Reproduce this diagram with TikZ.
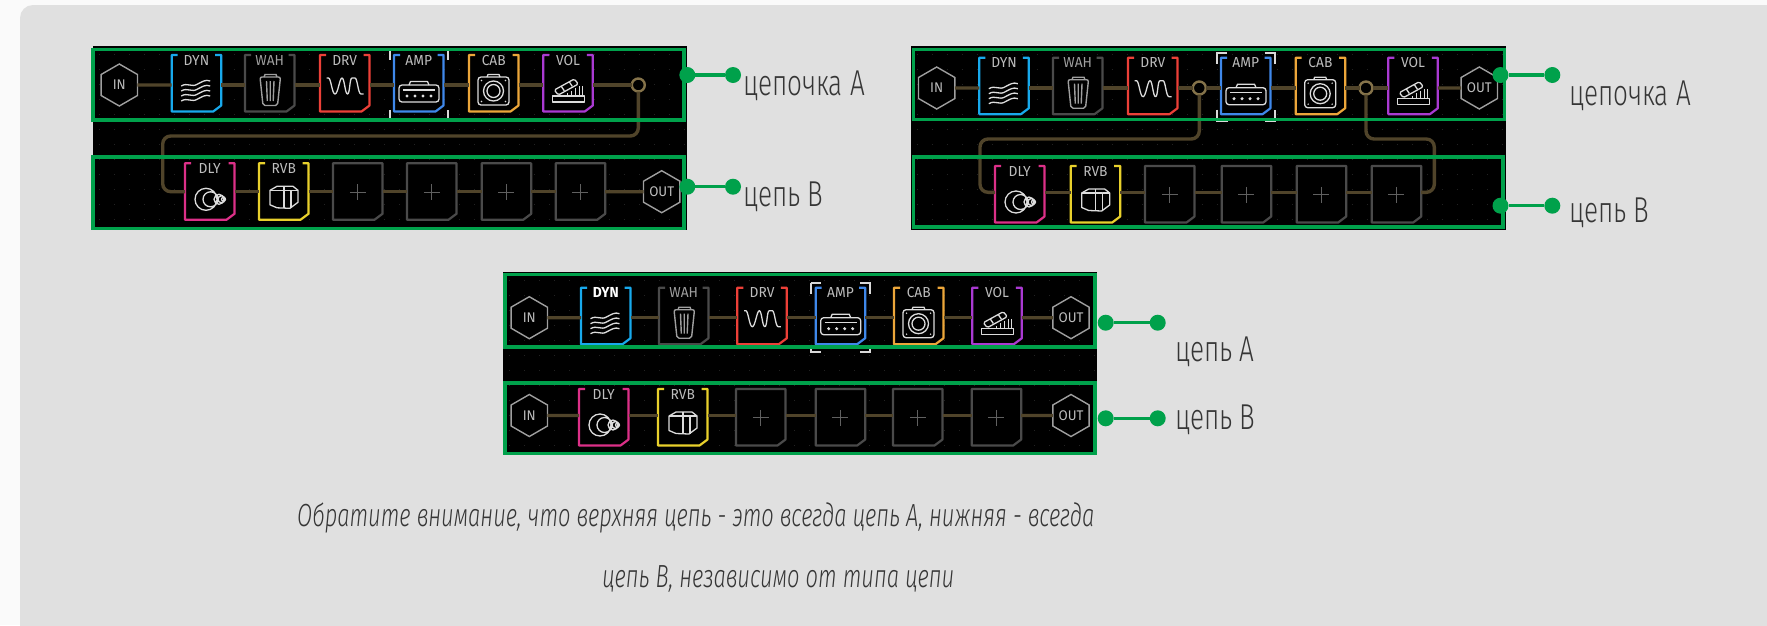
\documentclass[tikz,border=0pt]{standalone}
\usepackage{fontspec}
\usetikzlibrary{shapes.geometric}
\setmainfont{Fira Sans}
\newfontfamily\captionfont[FakeStretch=0.725]{Fira Sans Light}
\newfontfamily\notefont[FakeStretch=0.685]{Fira Sans Light}
\newfontfamily\tagfont[FakeStretch=0.95]{Fira Sans}
\definecolor{pagebg}{HTML}{FAFAFA}
\definecolor{panelbg}{HTML}{E0E0E0}
\definecolor{gridc}{HTML}{222222}
\definecolor{greenc}{HTML}{00A14B}
\definecolor{wirec}{HTML}{50442A}
\definecolor{ringc}{HTML}{85734A}
\definecolor{greyc}{HTML}{4A4A4A}
\definecolor{iconc}{HTML}{DCDCDC}
\definecolor{tagc}{HTML}{BDBDBD}
\definecolor{textc}{HTML}{363636}
\definecolor{plusc}{HTML}{606060}
\definecolor{dync}{HTML}{18A9EC}
\definecolor{drvc}{HTML}{EC4038}
\definecolor{ampc}{HTML}{3F88EA}
\definecolor{cabc}{HTML}{ECA63A}
\definecolor{volc}{HTML}{AA3AD2}
\definecolor{dlyc}{HTML}{DC3088}
\definecolor{rvbc}{HTML}{E8D02C}
\pgfdeclarelayer{front}
\pgfsetlayers{main,front}
\tikzset{
  anchorbox/.style={rectangle,minimum width=49.5pt,minimum height=2pt,inner sep=0pt,outer sep=0pt},
  hexnode/.style={regular polygon,regular polygon sides=6,shape border rotate=30,minimum size=42pt,inner sep=0pt,outer sep=0pt,draw=gray!75,line width=1.4pt,fill=black,text=tagc,font=\tagfont\fontsize{14}{15}\selectfont},
  ringnode/.style={circle,minimum size=13pt,inner sep=0pt,outer sep=0pt,draw=ringc,line width=2.4pt,fill=black},
  wire/.style={draw=wirec,line width=3.4pt},
  loopwire/.style={wire,rounded corners=8pt},
  outline/.style={line width=2.2pt,line join=round},
  iconline/.style={draw=iconc,line width=1.3pt,line join=round},
  tagtext/.style={inner sep=0pt,text=tagc,font=\tagfont\fontsize{14.5}{15}\selectfont},
  gdot/.style={circle,fill=greenc,minimum size=16pt,inner sep=0pt,outer sep=0pt},
  gline/.style={draw=greenc,line width=3.5pt},
  gframe/.style={draw=greenc,line width=3.6pt},
  caption/.style={anchor=base west,inner sep=0pt,text=textc,font=\captionfont\fontsize{36}{38}\selectfont},
  note/.style={anchor=base west,inner sep=0pt,text=textc,font=\notefont\itshape\fontsize{32}{34}\selectfont},
}
\newcommand{\fxmod}[7][tagc]{% [labelcolor] id,left,wirey,top,colour,label (icon via \iconarg)
  \node[anchorbox] (#2) at (#3+24.75,#4) {};
  \begin{scope}[shift={(#3,#5)}]
    \fill[black] (0,0) rectangle (49.5,56.5);
    \draw[outline,draw=#6] (6,0) -- (0,0) -- (0,56.5) -- (41.5,56.5) -- (49.5,50.5) -- (49.5,0) -- (43.5,0);
    \node[tagtext,text=#1] (#2-tag) at (24.75,5.2) {#7};
    \iconarg
  \end{scope}}
\newcommand{\emptymod}[4]{% id,left,wirey,top
  \node[anchorbox] (#1) at (#2+24.75,#3) {};
  \begin{scope}[shift={(#2,#4)}]
    \fill[black] (0,0) rectangle (49.5,56.5);
    \draw[outline,draw=greyc] (0,0) -- (0,56.5) -- (41.5,56.5) -- (49.5,50.5) -- (49.5,0) -- cycle;
    \draw[draw=plusc,line width=1.1pt] (16.75,28.8) -- (32.75,28.8) (24.75,20.8) -- (24.75,36.8);
  \end{scope}}
% icons, in the box's own coordinates
\newcommand{\icondyn}{\foreach \d in {0,5,10,15}{\draw[iconline] (9.5,31+\d) .. controls (16,27+\d) and (20,33+\d) .. (26,29+\d) .. controls (30,27+\d) and (34,24+\d) .. (38.5,26+\d);}}
\newcommand{\iconwah}{\begin{scope}[draw=gray!75,line width=1.4pt]
  \draw[rounded corners=2pt] (15,22) -- (35.5,22) -- (32.5,50.5) -- (18,50.5) -- cycle;
  \draw (19,22) -- (20,19.5) -- (31,19.5) -- (32,22);
  \draw (21.5,26) -- (22.3,46) (25.25,26) -- (25.25,46) (29,26) -- (28.2,46);
  \end{scope}}
\newcommand{\icondrv}{\draw[iconline] (6.7,23) -- (8.5,23) .. controls (11,23) and (12,39) .. (15,39) .. controls (18,39) and (19.5,23) .. (22,23) .. controls (24.5,23) and (25,39) .. (27.5,39) .. controls (30,39) and (29.5,23) .. (32,23) -- (35,23) .. controls (37.5,23) and (38,39) .. (41,39) -- (43.5,39);}
\newcommand{\iconamp}{\draw[iconline,rounded corners=3pt] (5,30) rectangle (45,47);
  \draw[iconline] (15,30) -- (16.5,26.5) -- (33.5,26.5) -- (35,30);
  \draw[iconline] (9,35) -- (41,35);
  \foreach \q in {13,21,29,37}{\fill[iconc] (\q,41) circle (1.7);}}
\newcommand{\iconcab}{\draw[iconline,rounded corners=3pt] (9,22) rectangle (40,50);
  \draw[iconline] (18,22) -- (19,19.5) -- (30,19.5) -- (31,22);
  \draw[iconline] (24.5,36) circle (10) (24.5,36) circle (6.5);
  \foreach \q/\r in {12.5/25.5,36.5/25.5,12.5/46.5,36.5/46.5}{\fill[iconc] (\q,\r) circle (.8);}}
\newcommand{\iconvol}{\draw[iconline] (9.5,41) rectangle (41,47);
  \draw[iconline,rounded corners=1.5pt] (11,35) -- (31,24) -- (35,29) -- (15,40) -- cycle;
  \draw[iconline] (18,31.3) -- (21,35.8) (26,26.9) -- (29,31.4);
  \draw[iconline] (24,41) -- (24,38) (28,41) -- (28,35.5) (32,41) -- (32,33) (36,41) -- (36,31) (39,41) -- (39,31);}
\newcommand{\icondly}{\draw[iconline] (21,36) circle (11) (25.5,36) circle (7.5) (34,36) circle (5) (36.5,36) circle (3.5) (38.5,36) circle (2);}
\newcommand{\iconrvb}{\draw[iconline] (11,27) -- (18,23) -- (34,23) -- (39,27) -- (39,39) -- (31,45) -- (18,44.5) -- (11,41.5) -- cycle;
  \draw[iconline] (11,27) -- (32,27) -- (32,45) (25,23) -- (25,44.5) (32,27) -- (39,27);}
\newcommand{\greenlink}[8]{%
  \node[gdot] (#1) at (#2,#4) {};
  \node[gdot] (#3) at (#5,#4) {};
  \draw[gline] (#1) -- (#3);
  \node[caption] (#1-text) at (#6,#7) {#8};}
\newcommand{\panelgrid}[4]{% x1,y1,x2,y2
  \fill[black] (#1,#2) rectangle (#3,#4);
  \pgfmathsetmacro{\rowa}{#2+8}\pgfmathsetmacro{\rowb}{#2+23}
  \foreach \v in {\rowa,\rowb,...,#4}{\draw[gridc,line width=1pt,dash pattern=on 1pt off 14pt] (#1+6,\v) -- (#3,\v);}}
\begin{document}
\begin{tikzpicture}[x=1pt,y=-1pt]
\useasboundingbox (0,0) rectangle (1767,625);
\clip (0,0) rectangle (1767,625);
\fill[pagebg] (0,0) rectangle (1767,625);
\fill[panelbg,rounded corners=13pt] (20,5) rectangle (1800,660);
\panelgrid{93}{46}{686.7}{230}
\panelgrid{910.7}{46}{1506}{230}
\panelgrid{503}{272}{1097.3}{455}
% ---------- diagram 1
\node[hexnode] (a-in) at (119.3,85) {IN};
\def\iconarg{\icondyn}\fxmod{a-dyn}{171.7}{85}{55}{dync}{DYN}
\def\iconarg{\iconwah}\fxmod[gray!75]{a-wah}{245}{85}{55}{greyc}{WAH}
\def\iconarg{\icondrv}\fxmod{a-drv}{320}{85}{55}{drvc}{DRV}
\begin{scope}[shift={(394,55)}]\draw[white!85!black,line width=2pt] (-4,-5.5) -- (-4,5) (53.5,-5.5) -- (53.5,5) (-4,55) -- (-4,64) (53.5,55) -- (53.5,64);\end{scope}
\def\iconarg{\iconamp}\fxmod{a-amp}{394}{85}{55}{ampc}{AMP}
\def\iconarg{\iconcab}\fxmod{a-cab}{469}{85}{55}{cabc}{CAB}
\def\iconarg{\iconvol}\fxmod{a-vol}{543.3}{85}{55}{volc}{VOL}
\node[ringnode] (a-ring) at (638.3,85) {};
\def\iconarg{\icondly}\fxmod{a-dly}{185}{191.7}{163.3}{dlyc}{DLY}
\def\iconarg{\iconrvb}\fxmod{a-rvb}{259}{191.7}{163.3}{rvbc}{RVB}
\emptymod{a-p1}{333}{191.7}{163.3}
\emptymod{a-p2}{407}{191.7}{163.3}
\emptymod{a-p3}{481.7}{191.7}{163.3}
\emptymod{a-p4}{555.7}{191.7}{163.3}
\node[hexnode] (a-out) at (661.7,191.7) {OUT};
\foreach \p/\q in {a-in/a-dyn,a-dyn/a-wah,a-wah/a-drv,a-drv/a-amp,a-amp/a-cab,a-cab/a-vol,a-vol/a-ring,a-dly/a-rvb,a-rvb/a-p1,a-p1/a-p2,a-p2/a-p3,a-p3/a-p4,a-p4/a-out}{\draw[wire] (\p) -- (\q);}
\coordinate (a-turn) at (162.7,136);
\draw[loopwire] (a-ring.south) |- (a-turn) |- (a-dly);
% ---------- diagram 2
\node[hexnode] (b-in) at (936.7,88) {IN};
\def\iconarg{\icondyn}\fxmod{b-dyn}{979.3}{88}{57.7}{dync}{DYN}
\def\iconarg{\iconwah}\fxmod[gray!75]{b-wah}{1053}{88}{57.7}{greyc}{WAH}
\def\iconarg{\icondrv}\fxmod{b-drv}{1128}{88}{57.7}{drvc}{DRV}
\node[ringnode] (b-ring1) at (1199.3,88) {};
\begin{scope}[shift={(1221,57.7)}]\draw[white!85!black,line width=2pt] (-4,6) -- (-4,-4.5) -- (6,-4.5) (43.5,-4.5) -- (53.5,-4.5) -- (53.5,6) (-4,52) -- (-4,63.5) -- (7,63.5) (43.5,63.5) -- (53.5,63.5) -- (53.5,52);\end{scope}
\def\iconarg{\iconamp}\fxmod{b-amp}{1221}{88}{57.7}{ampc}{AMP}
\def\iconarg{\iconcab}\fxmod{b-cab}{1295.7}{88}{57.7}{cabc}{CAB}
\node[ringnode] (b-ring2) at (1366,88) {};
\def\iconarg{\iconvol}\fxmod{b-vol}{1388.3}{88}{57.7}{volc}{VOL}
\node[hexnode] (b-out) at (1479.3,88) {OUT};
\def\iconarg{\icondly}\fxmod{b-dly}{995}{192.3}{166}{dlyc}{DLY}
\def\iconarg{\iconrvb}\fxmod{b-rvb}{1070.7}{192.3}{166}{rvbc}{RVB}
\emptymod{b-p1}{1145}{192.3}{166}
\emptymod{b-p2}{1221.7}{192.3}{166}
\emptymod{b-p3}{1296.7}{192.3}{166}
\emptymod{b-p4}{1371.7}{192.3}{166}
\foreach \p/\q in {b-in/b-dyn,b-dyn/b-wah,b-wah/b-drv,b-drv/b-ring1,b-ring1/b-amp,b-amp/b-cab,b-cab/b-ring2,b-ring2/b-vol,b-vol/b-out,b-dly/b-rvb,b-rvb/b-p1,b-p1/b-p2,b-p2/b-p3,b-p3/b-p4}{\draw[wire] (\p) -- (\q);}
\coordinate (b-turn1) at (980,139);
\coordinate (b-turn2) at (1434.3,139);
\draw[loopwire] (b-ring1.south) |- (b-turn1) |- (b-dly);
\draw[loopwire] (b-ring2.south) |- (b-turn2) |- (b-p4);
% ---------- diagram 3
\node[hexnode] (c-in) at (529.3,317.7) {IN};
\def\iconarg{\icondyn}\fxmod[white]{c-dyn}{581}{317.7}{287.7}{dync}{\textbf{DYN}}
\def\iconarg{\iconwah}\fxmod[gray!75]{c-wah}{659}{317.7}{287.7}{greyc}{WAH}
\def\iconarg{\icondrv}\fxmod{c-drv}{737.3}{317.7}{287.7}{drvc}{DRV}
\begin{scope}[shift={(815.7,287.7)}]\draw[white!85!black,line width=2pt] (-5,6) -- (-5,-5) (-5,-5) -- (5,-5) (44.5,-5) -- (54.5,-5) -- (54.5,6) (-5,57) -- (-5,64) -- (5,64) (44.5,64) -- (54.5,64) -- (54.5,57);\end{scope}
\def\iconarg{\iconamp}\fxmod{c-amp}{815.7}{317.7}{287.7}{ampc}{AMP}
\def\iconarg{\iconcab}\fxmod{c-cab}{894}{317.7}{287.7}{cabc}{CAB}
\def\iconarg{\iconvol}\fxmod{c-vol}{972.3}{317.7}{287.7}{volc}{VOL}
\node[hexnode] (c-out) at (1071,317.7) {OUT};
\node[hexnode] (d-in) at (529.3,415.5) {IN};
\def\iconarg{\icondly}\fxmod{d-dly}{579}{415.5}{389}{dlyc}{DLY}
\def\iconarg{\iconrvb}\fxmod{d-rvb}{658}{415.5}{389}{rvbc}{RVB}
\emptymod{d-p1}{736}{415.5}{389}
\emptymod{d-p2}{815.7}{415.5}{389}
\emptymod{d-p3}{893}{415.5}{389}
\emptymod{d-p4}{971.7}{415.5}{389}
\node[hexnode] (d-out) at (1071,415.5) {OUT};
\foreach \p/\q in {c-in/c-dyn,c-dyn/c-wah,c-wah/c-drv,c-drv/c-amp,c-amp/c-cab,c-cab/c-vol,c-vol/c-out,d-in/d-dly,d-dly/d-rvb,d-rvb/d-p1,d-p1/d-p2,d-p2/d-p3,d-p3/d-p4,d-p4/d-out}{\draw[wire] (\p) -- (\q);}
% ---------- green frames and links
\begin{pgfonlayer}{front}
\draw[gframe] (93,49.3) rectangle (684,119.7);
\draw[gframe] (93,157.2) rectangle (684,228.3);
\draw[gframe] (913.3,49.3) rectangle (1504.3,119.5);
\draw[gframe] (913.3,157.2) rectangle (1503,227);
\draw[gframe] (505,274.3) rectangle (1095,346.7);
\draw[gframe] (505,382.7) rectangle (1095,453.3);
\greenlink{l1}{687.3}{l2}{75}{733}{743}{95}{цепочка А}
\greenlink{l3}{687.3}{l4}{186.7}{733}{743}{206.7}{цепь В}
\greenlink{l5}{1500.5}{l6}{75}{1552.3}{1569}{105}{цепочка А}
\greenlink{l7}{1500.5}{l8}{205.7}{1552.3}{1569}{222.3}{цепь В}
\greenlink{l9}{1105.7}{l10}{322.7}{1157.7}{1175}{361}{цепь А}
\greenlink{l11}{1105.7}{l12}{418.3}{1157.7}{1175}{429}{цепь В}
\node[note] (n1) at (297,526.7) {Обратите внимание, что верхняя цепь - это всегда цепь А, нижняя - всегда};
\node[note] (n2) at (602,587) {цепь В, независимо от типа цепи};
\end{pgfonlayer}
\end{tikzpicture}
\end{document}
